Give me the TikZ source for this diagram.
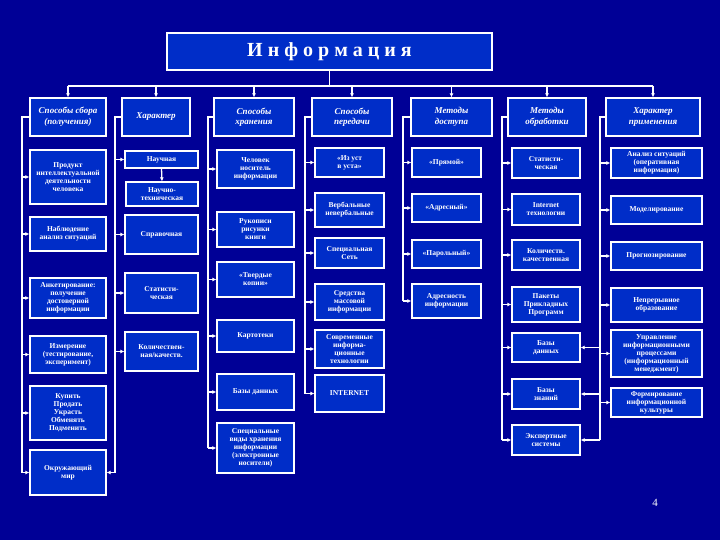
\documentclass[tikz,border=0pt]{standalone}
\usepackage{fontspec}
\setmainfont{Liberation Serif}
\usetikzlibrary{arrows.meta}
\definecolor{bgc}{RGB}{0,0,150}
\definecolor{boxc}{RGB}{0,45,200}
\newcommand\B[7][]{\node[box,#1,minimum width={(#4-#2)*1pt},minimum height={(#5-#3)*1pt}] (#6) at ({(#2+#4)/2},{(#3+#5)/2}) {#7};}
\tikzset{
 box/.style={draw=white,line width=1.3pt,fill=boxc,text=white,align=center,inner sep=1pt,font=\bfseries\fontsize{7.5}{8}\selectfont},
 hdr/.style={font=\bfseries\itshape\fontsize{9}{10.5}\selectfont},
 ln/.style={draw=white,line width=1.3pt},
 arr/.style={ln,-{Latex[length=4pt,width=4pt]}}
}
\begin{document}
\begin{tikzpicture}[x=1pt,y=-1pt]
\fill[bgc] (0,0) rectangle (720,540);
\useasboundingbox (0,0) rectangle (720,540);
\B[font=\bfseries\fontsize{20}{22}\selectfont]{167}{33}{492}{70}{title}{И н ф о р м а ц и я}
% headers
\B[hdr]{30}{98}{106}{136}{h1}{Способы сбора\\(получения)}
\B[hdr]{122}{98}{190}{136}{h2}{Характер}
\B[hdr]{214}{98}{294}{136}{h3}{Способы\\хранения}
\B[hdr]{312}{98}{392}{136}{h4}{Способы\\передачи}
\B[hdr]{411}{98}{492}{136}{h5}{Методы\\доступа}
\B[hdr]{508}{98}{586}{136}{h6}{Методы\\обработки}
\B[hdr]{606}{98}{700}{136}{h7}{Характер\\применения}
\coordinate (bus) at (0,86);
\draw[ln] (title.south) -- (title.south |- bus);
\draw[ln] (h1.north |- bus) -- (h7.north |- bus);
\foreach \h in {h1,h2,h3,h4,h5,h6,h7} \draw[arr] (\h.north |- bus) -- (\h.north);
% trunks
\coordinate (t1) at (22,117); \coordinate (t2) at (115,117); \coordinate (t3) at (208,117);
\coordinate (t4) at (305,117); \coordinate (t5) at (403,117); \coordinate (t6) at (502,117);
\coordinate (t7) at (600,117);
% column 1
\B{30}{150}{106}{204}{c11}{Продукт\\интеллектуальной\\деятельности\\человека}
\B{30}{217}{106}{251}{c12}{Наблюдение\\анализ ситуаций}
\B{30}{278}{106}{318}{c13}{Анкетирование:\\получение\\достоверной\\информации}
\B{30}{336}{106}{373}{c14}{Измерение\\(тестирование,\\эксперимент)}
\B{30}{386}{106}{440}{c15}{Купить\\Продать\\Украсть\\Обменять\\Подменить}
\B{30}{450}{106}{495}{c16}{Окружающий\\мир}
\draw[ln] (h1.west) -- (t1) -- (t1 |- c16.west);
\foreach \n in {c11,c12,c13,c14,c15,c16} \draw[arr] (t1 |- \n.west) -- (\n.west);
% column 2
\B{125}{151}{198}{168}{c21}{Научная}
\B{126}{182}{198}{206}{c22}{Научно-\\техническая}
\B{125}{215}{198}{254}{c23}{Справочная}
\B{125}{273}{198}{313}{c24}{Статисти-\\ческая}
\B{125}{332}{198}{371}{c25}{Количествен-\\ная/качеств.}
\draw[arr] (c21.south) -- (c22.north);
\draw[ln] (h2.west) -- (t2) -- (t2 |- c16.east);
\foreach \n in {c21,c23,c24,c25} \draw[arr] (t2 |- \n.west) -- (\n.west);
\draw[arr] (t2 |- c16.east) -- (c16.east);
% column 3
\B{217}{150}{294}{188}{c31}{Человек\\носитель\\информации}
\B{217}{212}{294}{247}{c32}{Рукописи\\рисунки\\книги}
\B{217}{262}{294}{297}{c33}{«Твердые\\копии»}
\B{217}{320}{294}{352}{c34}{Картотеки}
\B{217}{374}{294}{410}{c35}{Базы данных}
\B{217}{423}{294}{473}{c36}{Специальные\\виды хранения\\информации\\(электронные\\носители)}
\draw[ln] (h3.west) -- (t3) -- (t3 |- c36.west);
\foreach \n in {c31,c32,c33,c34,c35,c36} \draw[arr] (t3 |- \n.west) -- (\n.west);
% column 4
\B{315}{148}{384}{177}{c41}{«Из уст\\в уста»}
\B{315}{193}{384}{227}{c42}{Вербальные\\невербальные}
\B{315}{238}{384}{268}{c43}{Специальная\\Сеть}
\B{315}{284}{384}{320}{c44}{Средства\\массовой\\информации}
\B{315}{330}{384}{368}{c45}{Современные\\информа-\\ционные\\технологии}
\B{315}{375}{384}{412}{c46}{INTERNET}
\draw[ln] (h4.west) -- (t4) -- (t4 |- c46.west);
\foreach \n in {c41,c42,c43,c44,c45,c46} \draw[arr] (t4 |- \n.west) -- (\n.west);
% column 5
\B{412}{148}{481}{177}{c51}{«Прямой»}
\B{412}{194}{481}{222}{c52}{«Адресный»}
\B{412}{240}{481}{268}{c53}{«Парольный»}
\B{412}{284}{481}{318}{c54}{Адресность\\информации}
\draw[ln] (h5.west) -- (t5) -- (t5 |- c54.west);
\foreach \n in {c51,c52,c53,c54} \draw[arr] (t5 |- \n.west) -- (\n.west);
% column 6
\B{512}{148}{580}{178}{c61}{Статисти-\\ческая}
\B{512}{194}{580}{225}{c62}{Internet\\технологии}
\B{512}{240}{580}{270}{c63}{Количеств.\\качественная}
\B{512}{287}{580}{322}{c64}{Пакеты\\Прикладных\\Программ}
\B{512}{333}{580}{362}{c65}{Базы\\данных}
\B{512}{379}{580}{409}{c66}{Базы\\знаний}
\B{512}{425}{580}{455}{c67}{Экспертные\\системы}
\draw[ln] (h6.west) -- (t6) -- (t6 |- c67.west);
\foreach \n in {c61,c62,c63,c64,c65,c66,c67} \draw[arr] (t6 |- \n.west) -- (\n.west);
% column 7
\B{611}{148}{702}{178}{c71}{Анализ ситуаций\\(оперативная\\информация)}
\B{611}{196}{702}{224}{c72}{Моделирование}
\B{611}{242}{702}{270}{c73}{Прогнозирование}
\B{611}{288}{702}{322}{c74}{Непрерывное\\образование}
\B{611}{330}{702}{377}{c75}{Управление\\информационными\\процессами\\(информационный\\менеджмент)}
\B{611}{388}{702}{417}{c76}{Формирование\\информационной\\культуры}
\draw[ln] (h7.west) -- (t7) -- (t7 |- c67.east);
\foreach \n in {c71,c72,c73,c74,c75,c76} \draw[arr] (t7 |- \n.west) -- (\n.west);
\foreach \n in {c65,c66,c67} \draw[arr] (t7 |- \n.east) -- (\n.east);
\node[text=white,font=\fontsize{11}{12}\selectfont] (pg) at (655,503) {4};
\end{tikzpicture}
\end{document}
